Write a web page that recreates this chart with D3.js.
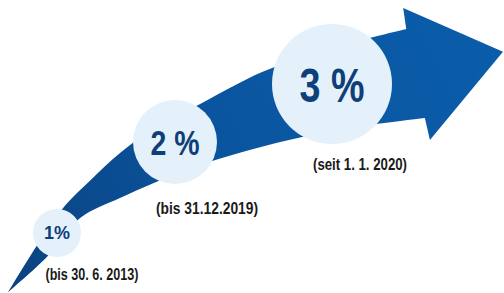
<!DOCTYPE html>
<html>
<head>
<meta charset="utf-8">
<script src="https://cdn.jsdelivr.net/npm/d3@7"></script>
<style>
  html, body { margin: 0; padding: 0; background: #fff; }
  svg { display: block; }
</style>
</head>
<body>
<div id="chart"></div>
<script>
// Beitragssatz-Stufen
const rates = [1, 2, 3];
const rateLabels = ["1%", "2 %", "3 %"];
const periods = ["(bis 30. 6. 2013)", "(bis 31.12.2019)", "(seit 1. 1. 2020)"];

// Arrow outline in layout units (0..100 across, 0..100 up)
const upperEdge = [[1.6, 0.3], [8, 18], [13, 30], [18, 38.6], [24, 48], [32, 58], [40, 64.8], [52, 75.4], [66, 83.6], [80.6, 90.1]];
const lowerEdge = [[1.6, 0.3], [9.3, 12.3], [15.9, 25.6], [23.8, 32.4], [30.4, 37.5], [39.7, 43.7], [55.6, 51.5], [69.4, 56.3], [84.3, 59.7]];
const arrowHead = [[80.6, 90.1], [80, 97.3], [99.8, 82.3], [85.3, 52.2], [84.3, 59.7]];

const width = 504;
const height = 293;

const x = d3.scaleLinear().domain([0, 100]).range([0, width]);
const y = d3.scaleLinear().domain([0, 100]).range([height, 0]);

// circle size grows with the rate
const r = d3.scaleLinear().domain([1, 3]).range([24, 60]);
const cx = d3.scaleLinear().domain([1, 2, 3]).range([57, 175, 332]);
const cy = d3.scaleLinear().domain([1, 2, 3]).range([233, 142, 84]);
const fontSize = d3.scaleLinear().domain([1, 2, 3]).range([18, 35, 49]);
// condensed look: squeeze the text to these widths
const rateWidth = d3.scaleLinear().domain([1, 2, 3]).range([26, 49, 65]);

const svg = d3.select("#chart")
    .append("svg")
    .attr("width", width)
    .attr("height", height);

const grad = svg.append("defs")
    .append("linearGradient")
    .attr("id", "arrowGrad")
    .attr("gradientUnits", "userSpaceOnUse")
    .attr("x1", x(0)).attr("y1", y(0))
    .attr("x2", x(100)).attr("y2", y(80));
grad.append("stop").attr("offset", "0").attr("stop-color", "#0b427f");
grad.append("stop").attr("offset", "0.5").attr("stop-color", "#0a55a0");
grad.append("stop").attr("offset", "1").attr("stop-color", "#0a5daa");

const edge = d3.line()
    .x(d => x(d[0]))
    .y(d => y(d[1]))
    .curve(d3.curveCatmullRom);

// build outline: upper edge -> head -> lower edge back to tip
const upperPath = edge(upperEdge);
const lowerPath = edge(lowerEdge.slice().reverse());
const headPath = arrowHead.slice(1).map(p => `L${x(p[0])},${y(p[1])}`).join("");

svg.append("path")
    .attr("d", upperPath + headPath + "L" + lowerPath.slice(1) + "Z")
    .attr("fill", "url(#arrowGrad)");

const font = "'Liberation Sans', Arial, sans-serif";

const steps = svg.selectAll(".step")
    .data(rates)
    .join("g")
    .attr("class", "step");

steps.append("circle")
    .attr("cx", d => cx(d))
    .attr("cy", d => cy(d))
    .attr("r", d => r(d))
    .attr("fill", "#e4f1fb");

steps.append("text")
    .attr("x", d => cx(d))
    .attr("y", d => cy(d))
    .attr("dy", "0.36em")
    .attr("text-anchor", "middle")
    .attr("font-family", font)
    .attr("font-weight", "bold")
    .attr("font-size", d => fontSize(d) + "px")
    .attr("textLength", d => rateWidth(d))
    .attr("lengthAdjust", "spacingAndGlyphs")
    .attr("fill", "#0e3f78")
    .text((d, i) => rateLabels[i]);

// period labels below each circle
const labelX = d3.scaleLinear().domain([1, 2, 3]).range([92, 207, 360]);
const labelY = d3.scaleLinear().domain([1, 2, 3]).range([280, 214, 170]);
const labelWidth = d3.scaleLinear().domain([1, 2, 3]).range([93, 102, 94]);

steps.append("text")
    .attr("x", d => labelX(d))
    .attr("y", d => labelY(d))
    .attr("text-anchor", "middle")
    .attr("font-family", font)
    .attr("font-weight", "bold")
    .attr("font-size", "16px")
    .attr("textLength", d => labelWidth(d))
    .attr("lengthAdjust", "spacingAndGlyphs")
    .attr("fill", "#1a1a1a")
    .text((d, i) => periods[i]);
</script>
</body>
</html>
